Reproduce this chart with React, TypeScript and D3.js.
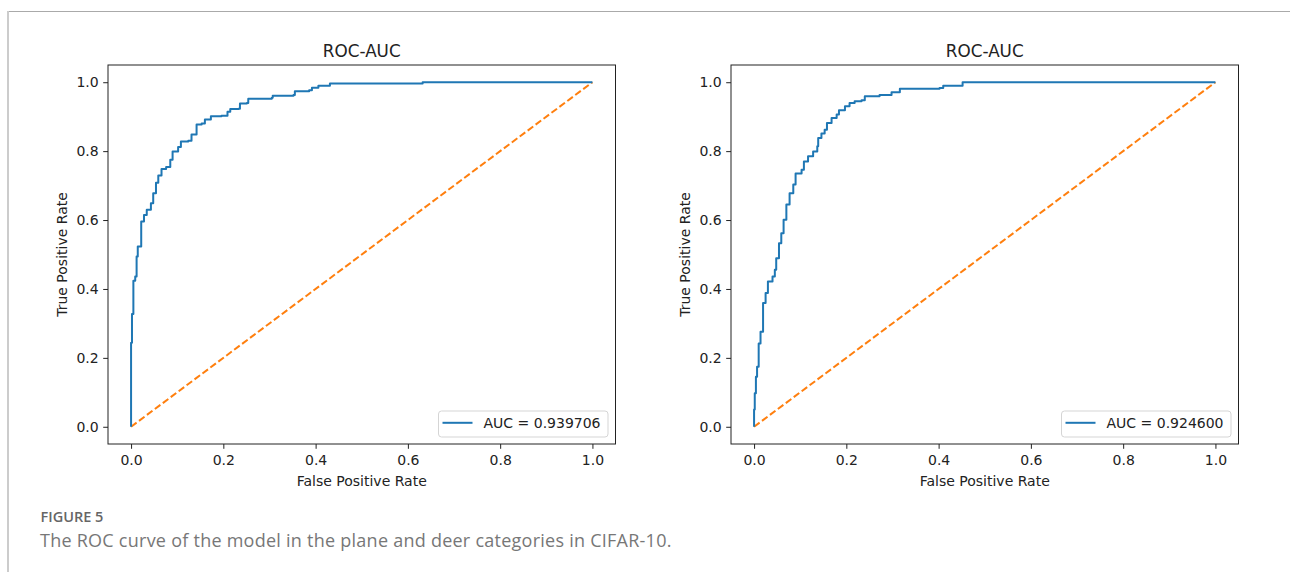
import React, { useEffect, useRef } from 'react';
import * as d3 from 'd3';

// ROC points (plane / deer)
const planeFpr = [0, 0, 0.002, 0.005, 0.009, 0.012, 0.0145, 0.022, 0.022, 0.028, 0.034, 0.043, 0.048, 0.054, 0.059, 0.066, 0.076, 0.085, 0.09, 0.102, 0.108, 0.124, 0.131, 0.142, 0.153, 0.16, 0.173, 0.196, 0.209, 0.215, 0.233, 0.236, 0.251, 0.254, 0.305, 0.307, 0.352, 0.355, 0.386, 0.392, 0.406, 0.431, 0.632, 1.0];
const planeTpr = [0, 0.244, 0.327, 0.424, 0.436, 0.494, 0.523, 0.562, 0.596, 0.615, 0.63, 0.649, 0.678, 0.708, 0.729, 0.748, 0.754, 0.775, 0.799, 0.812, 0.828, 0.83, 0.848, 0.877, 0.88, 0.892, 0.901, 0.903, 0.914, 0.922, 0.923, 0.938, 0.94, 0.952, 0.955, 0.961, 0.963, 0.974, 0.977, 0.984, 0.99, 0.996, 1.0, 1.0];

const deerFpr = [0, 0, 0.0015, 0.004, 0.0065, 0.01, 0.014, 0.0195, 0.025, 0.03, 0.04, 0.045, 0.048, 0.054, 0.059, 0.064, 0.07, 0.077, 0.085, 0.09, 0.103, 0.108, 0.117, 0.128, 0.137, 0.139, 0.146, 0.153, 0.158, 0.168, 0.179, 0.184, 0.197, 0.207, 0.218, 0.233, 0.24, 0.272, 0.298, 0.316, 0.402, 0.41, 0.452, 1.0];
const deerTpr = [0, 0.05, 0.097, 0.145, 0.174, 0.242, 0.276, 0.359, 0.388, 0.422, 0.436, 0.456, 0.489, 0.533, 0.562, 0.601, 0.645, 0.678, 0.703, 0.735, 0.746, 0.77, 0.785, 0.799, 0.814, 0.838, 0.851, 0.862, 0.882, 0.896, 0.906, 0.919, 0.93, 0.94, 0.945, 0.948, 0.959, 0.963, 0.971, 0.981, 0.983, 0.99, 1.0, 1.0];

const aucLabels = ['AUC = 0.939706', 'AUC = 0.924600'];
const ticks = [0, 0.2, 0.4, 0.6, 0.8, 1.0];

const FONT = 'DejaVu Sans, sans-serif';

const App = () => {
  const ref = useRef<SVGSVGElement>(null);

  useEffect(() => {
    if (!ref.current) return;
    const svg = d3.select(ref.current);
    svg.selectAll('*').remove();

    // page frame lines
    svg.append('line').attr('x1', 7).attr('x2', 1290).attr('y1', 11.5).attr('y2', 11.5)
      .attr('stroke', '#aaa').attr('stroke-width', 1);
    svg.append('line').attr('x1', 8).attr('x2', 8).attr('y1', 11).attr('y2', 572)
      .attr('stroke', '#ccc').attr('stroke-width', 2);

    const panels = [
      { left: 108, fpr: planeFpr, tpr: planeTpr, label: aucLabels[0] },
      { left: 731, fpr: deerFpr, tpr: deerTpr, label: aucLabels[1] },
    ];
    const top = 65, bottom = 444, w = 507.5;

    panels.forEach(p => {
      const x = d3.scaleLinear().domain([-0.05, 1.05]).range([p.left, p.left + w]);
      const y = d3.scaleLinear().domain([-0.05, 1.05]).range([bottom, top]);
      const g = svg.append('g');

      const pts = p.fpr.map((f, i) => [f, p.tpr[i]] as [number, number]);

      // diagonal
      g.append('path')
        .attr('d', d3.line()([[x(0), y(0)], [x(1), y(1)]]))
        .attr('fill', 'none').attr('stroke', '#ff7f0e').attr('stroke-width', 2)
        .attr('stroke-dasharray', '6.9,3');

      g.append('path')
        .attr('d', d3.line<[number, number]>().x(d => x(d[0])).y(d => y(d[1])).curve(d3.curveStepAfter)(pts))
        .attr('fill', 'none').attr('stroke', '#1f77b4').attr('stroke-width', 2)
        .attr('stroke-linejoin', 'round');

      // axes
      const xa = g.append('g').attr('transform', `translate(0,${bottom})`)
        .call(d3.axisBottom(x).tickValues(ticks).tickFormat(d3.format('.1f')).tickSize(4.8).tickPadding(7.5));
      const ya = g.append('g').attr('transform', `translate(${p.left},0)`)
        .call(d3.axisLeft(y).tickValues(ticks).tickFormat(d3.format('.1f')).tickSize(4.8).tickPadding(4.5));
      [xa, ya].forEach(a => {
        a.select('.domain').remove();
        a.selectAll('line').attr('stroke', '#222').attr('stroke-width', 1);
        a.selectAll('text').attr('fill', '#222').style('font-family', FONT).style('font-size', '14px');
      });
      xa.selectAll('text').attr('dy', '0.6em');

      g.append('rect').attr('x', p.left).attr('y', top).attr('width', w).attr('height', bottom - top)
        .attr('fill', 'none').attr('stroke', '#222').attr('stroke-width', 1);

      const cx = p.left + w / 2;
      g.append('text').attr('x', cx).attr('y', top - 8.5).attr('text-anchor', 'middle')
        .style('font-family', FONT).style('font-size', '16.8px').attr('fill', '#222').text('ROC-AUC');
      g.append('text').attr('x', cx).attr('y', 485.5).attr('text-anchor', 'middle')
        .style('font-family', FONT).style('font-size', '14px').attr('fill', '#222').text('False Positive Rate');
      g.append('text').attr('transform', `translate(${p.left - 41.5},${(top + bottom) / 2}) rotate(-90)`)
        .attr('text-anchor', 'middle')
        .style('font-family', FONT).style('font-size', '14px').attr('fill', '#222').text('True Positive Rate');

      // legend
      const lw = 169.5, lh = 26;
      const lx = p.left + w - 7.5 - lw, ly = bottom - 7 - lh;
      g.append('rect').attr('x', lx).attr('y', ly).attr('width', lw).attr('height', lh).attr('rx', 3)
        .attr('fill', '#fff').attr('fill-opacity', 0.8).attr('stroke', '#d5d5d5').attr('stroke-width', 1);
      g.append('line').attr('x1', lx + 4).attr('x2', lx + 34).attr('y1', ly + 11.8).attr('y2', ly + 11.8)
        .attr('stroke', '#1f77b4').attr('stroke-width', 2);
      g.append('text').attr('x', lx + 45).attr('y', ly + 17)
        .style('font-family', FONT).style('font-size', '14px').attr('fill', '#222').text(p.label);
    });

    svg.append('text').attr('x', 40.5).attr('y', 522)
      .style('font-family', 'Open Sans, sans-serif').style('font-size', '14.5px').style('font-weight', 600)
      .attr('fill', '#666').text('FIGURE 5');
    svg.append('text').attr('x', 40).attr('y', 547)
      .style('font-family', 'Open Sans, sans-serif').style('font-size', '18px').style('letter-spacing', '0.25px')
      .attr('fill', '#777').text('The ROC curve of the model in the plane and deer categories in CIFAR-10.');
  }, []);

  return (
    <svg ref={ref} width={1290} height={572}
      style={{ position: 'absolute', left: 0, top: 0, background: '#fff' }} />
  );
};

export default App;
